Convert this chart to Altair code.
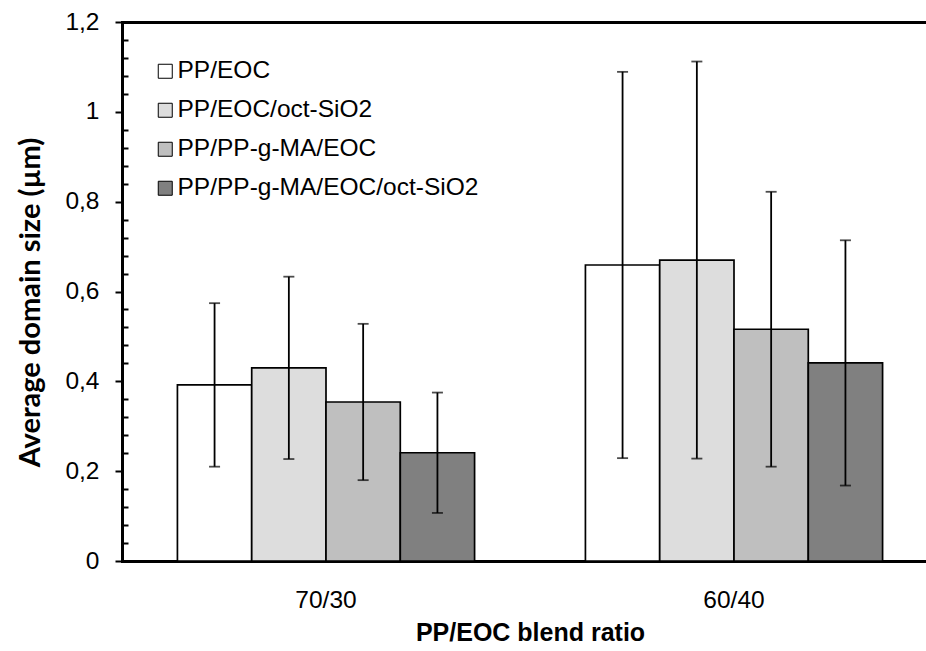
import altair as alt
import pandas as pd

# Blend ratios (x groups) and sample series
ratios = ["70/30", "60/40"]
series = ["PP/EOC", "PP/EOC/oct-SiO2", "PP/PP-g-MA/EOC", "PP/PP-g-MA/EOC/oct-SiO2"]

# Average domain size (µm) and standard deviation per series
mean_70_30 = [0.392, 0.430, 0.354, 0.241]
sd_70_30 = [0.182, 0.203, 0.174, 0.134]
mean_60_40 = [0.659, 0.670, 0.516, 0.441]
sd_60_40 = [0.430, 0.442, 0.306, 0.273]

fills = ["#FFFFFF", "#DDDDDD", "#BFBFBF", "#808080"]

major_ticks = [0, 0.2, 0.4, 0.6, 0.8, 1.0, 1.2]
minor_ticks = [round(i * 0.04, 2) for i in range(31) if i % 5 != 0]

rows = []
for ratio, means, sds in [("70/30", mean_70_30, sd_70_30), ("60/40", mean_60_40, sd_60_40)]:
    for s, m, sd in zip(series, means, sds):
        rows.append({"ratio": ratio, "series": s, "mean": m, "lo": m - sd, "hi": m + sd})
df = pd.DataFrame(rows)

FONT = "Liberation Sans"
FS = 24.5

# The category axis runs a little past the right edge of the canvas
x_scale = alt.Scale(paddingInner=0, paddingOuter=0, range=[0, 816])
xoff_enc = alt.XOffset(
    "series:N", sort=series, scale=alt.Scale(paddingInner=0, paddingOuter=0.746)
)
y_scale = alt.Scale(domain=[0, 1.2], nice=False, zero=True)

x_bottom = alt.X(
    "ratio:N",
    sort=ratios,
    scale=x_scale,
    axis=alt.Axis(
        orient="bottom",
        title="PP/EOC blend ratio",
        labelAngle=0,
        ticks=False,
        tickSize=0,
        domain=True,
        domainColor="black",
        domainWidth=3,
        domainCap="square",
        labelFont=FONT,
        labelFontSize=FS,
        labelColor="black",
        labelPadding=27,
        labelBaseline="top",
        titleFont=FONT,
        titleFontSize=25,
        titleFontWeight="bold",
        titleColor="black",
        titleY=79,
        titleBaseline="alphabetic",
    ),
)
x_top = alt.X(
    "ratio:N",
    sort=ratios,
    scale=x_scale,
    axis=alt.Axis(
        orient="top",
        labels=False,
        ticks=False,
        domain=True,
        domainColor="black",
        domainWidth=3,
        domainCap="square",
        title=None,
    ),
)
x_plain = alt.X("ratio:N", sort=ratios, scale=x_scale, axis=None)

bars = alt.Chart(df).mark_bar(stroke="black", strokeWidth=1.7).encode(
    x=x_bottom,
    xOffset=xoff_enc,
    y=alt.Y(
        "mean:Q",
        scale=y_scale,
        axis=alt.Axis(
            orient="left",
            values=major_ticks,
            labelExpr="replace(format(datum.value, '~g'), '.', ',')",
            tickSize=7,
            tickWidth=2,
            tickColor="black",
            domain=True,
            domainColor="black",
            domainWidth=3,
            domainCap="square",
            grid=False,
            labelFont=FONT,
            labelFontSize=FS,
            labelColor="black",
            labelPadding=16,
            title="Average domain size (µm)",
            titleFont="Lato",
            titleFontSize=29,
            titleFontWeight="bold",
            titleColor="black",
            titleX=-92,
            titleY=280,
            titleAlign="center",
            titleBaseline="middle",
        ),
    ),
    color=alt.Color(
        "series:N",
        sort=series,
        scale=alt.Scale(domain=series, range=fills),
        legend=alt.Legend(
            title=None,
            orient="none",
            legendX=31,
            legendY=37,
            symbolType="square",
            symbolSize=196,
            symbolStrokeColor="black",
            symbolStrokeWidth=1,
            symbolOpacity=1,
            labelFont=FONT,
            labelFontSize=FS,
            labelColor="black",
            labelOffset=0,
            labelLimit=500,
            rowPadding=14,
            padding=0,
        ),
    ),
)

# Error bar stems, carrying the inward minor ticks and the top frame line
stems = alt.Chart(df).mark_rule(color="black", strokeWidth=1.8).encode(
    x=x_top,
    xOffset=xoff_enc,
    y=alt.Y(
        "lo:Q",
        scale=y_scale,
        axis=alt.Axis(
            orient="left",
            values=minor_ticks,
            labels=False,
            domain=False,
            grid=False,
            tickSize=6,
            tickWidth=2,
            tickColor="black",
            offset=-6,
            title=None,
        ),
    ),
    y2="hi:Q",
)

caps_hi = alt.Chart(df).mark_tick(color="black", thickness=1.8, size=11).encode(
    x=x_plain, xOffset=xoff_enc, y=alt.Y("hi:Q", scale=y_scale, axis=None)
)
caps_lo = alt.Chart(df).mark_tick(color="black", thickness=1.8, size=11).encode(
    x=x_plain, xOffset=xoff_enc, y=alt.Y("lo:Q", scale=y_scale, axis=None)
)

chart = (
    alt.layer(bars, stems, caps_hi, caps_lo)
    .resolve_axis(x="independent", y="independent")
    .properties(
        width=804,
        height=539,
        autosize=alt.AutoSizeParams(type="none"),
        padding={"left": 122, "top": 22, "right": 0, "bottom": 90},
        background="white",
    )
    .configure_view(stroke=None)
)

chart.save("out.html", embed_options={"renderer": "svg", "actions": False})
